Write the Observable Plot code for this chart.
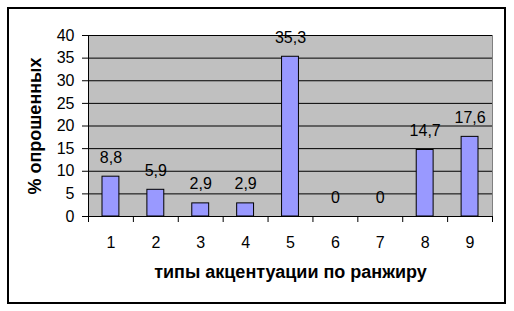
<!DOCTYPE html>
<html><head><meta charset="utf-8">
<script src="https://cdn.jsdelivr.net/npm/d3@7"></script>
<script src="https://cdn.jsdelivr.net/npm/@observablehq/plot@0.6"></script>
<style>
body{margin:0;background:#fff}
#wrap{position:relative;width:514px;height:311px}
#wrap svg{position:absolute;left:0;top:0}
#border{position:absolute;left:7px;top:7px;width:495px;height:293px;border:2px solid #000;pointer-events:none}
</style></head><body>
<div id="wrap"><div id="border"></div></div>
<script>
const categories = [1, 2, 3, 4, 5, 6, 7, 8, 9];
const values = [8.8, 5.9, 2.9, 2.9, 35.3, 0, 0, 14.7, 17.6];
const valueLabels = ["8,8", "5,9", "2,9", "2,9", "35,3", "0", "0", "14,7", "17,6"];
const yTicks = [0, 5, 10, 15, 20, 25, 30, 35, 40];
const xTitle = "типы акцентуации по ранжиру";
const yTitle = "% опрошенных";

const data = categories.map((c, i) => ({cat: c, value: values[i], label: valueLabels[i]}));
const boundaries = categories.map(c => c - 0.5).concat([categories[categories.length - 1] + 0.5]);

const plot = Plot.plot({
  width: 514, height: 311,
  marginLeft: 88, marginTop: 35, marginRight: 22, marginBottom: 95,
  style: {fontFamily: "'Liberation Sans', Arial, sans-serif", fontSize: "16px", color: "#000", background: "transparent", overflow: "visible"},
  x: {type: "linear", domain: [0.5, 9.5]},
  y: {domain: [0, 40]},
  marks: [
    Plot.frame({fill: "#c0c0c0", stroke: "#808080"}),
    Plot.gridY(yTicks.slice(1), {stroke: "#000", strokeOpacity: 1}),
    Plot.rectY(data.filter(d => d.value > 0), {x1: d => d.cat - 0.5, x2: d => d.cat + 0.5, y: "value", insetLeft: 14, insetRight: 14, fill: "#9999ff", stroke: "#000"}),
    Plot.text(data, {x: "cat", y: "value", text: "label", lineAnchor: "bottom", dy: -14, fontSize: 16, fill: "#000"}),
    Plot.ruleY([0], {stroke: "#000"}),
    Plot.ruleX([0.5], {stroke: "#000"}),
    Plot.axisY({ticks: yTicks, tickSize: 6, tickPadding: 8, label: null, fontSize: 16}),
    Plot.axisX({ticks: boundaries, tickSize: 6, tickFormat: () => "", label: null}),
    Plot.axisX({ticks: categories, tickSize: 0, tickPadding: 20, label: null, fontSize: 16}),
    Plot.text([xTitle], {frameAnchor: "bottom", lineAnchor: "middle", dy: 56, fontWeight: "bold", fontSize: 18, fill: "#000"}),
    Plot.text([yTitle], {frameAnchor: "left", textAnchor: "middle", lineAnchor: "middle", dx: -53, rotate: -90, fontWeight: "bold", fontSize: 18, fill: "#000"})
  ]
});
document.getElementById("wrap").prepend(plot);
</script>
</body></html>
